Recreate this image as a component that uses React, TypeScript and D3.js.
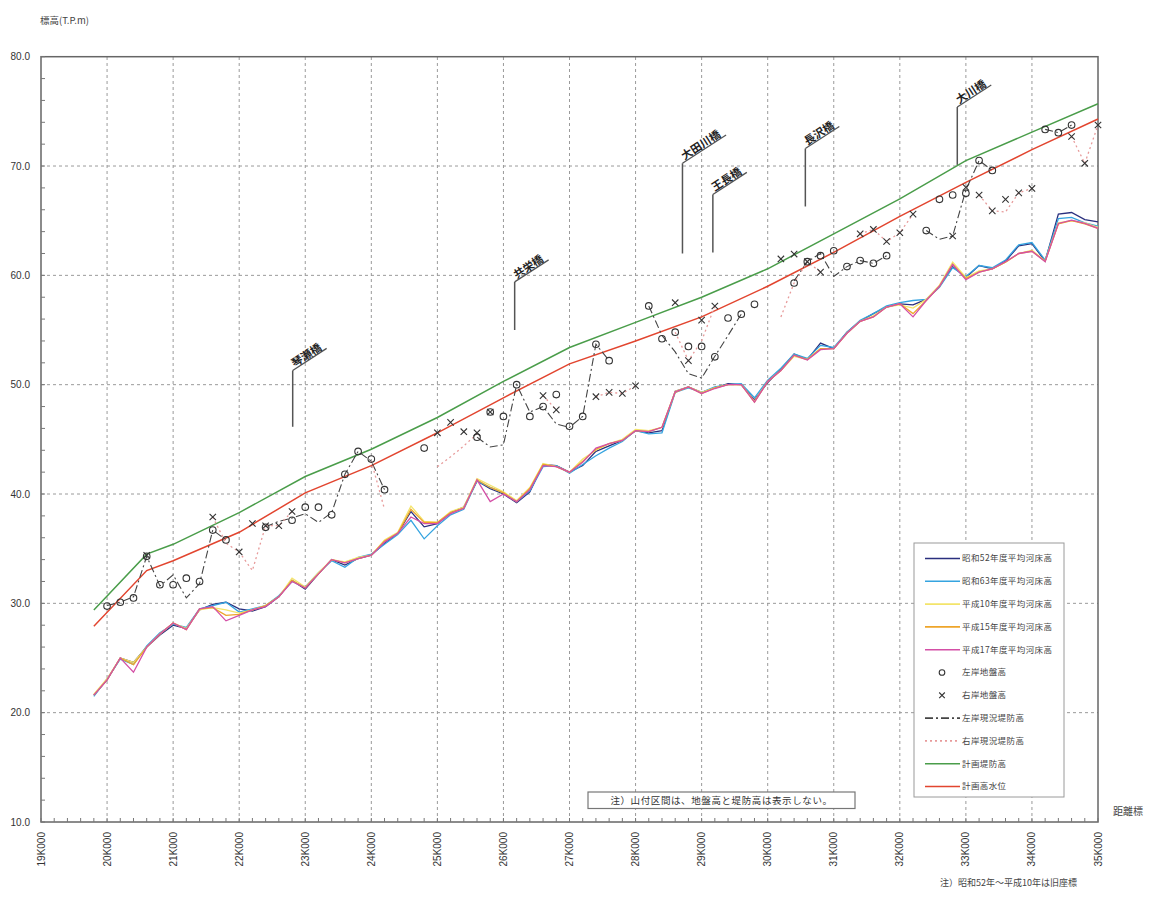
import React from 'react';
import * as d3 from 'd3';

const KM = [19.8,20,20.2,20.4,20.6,20.8,21,21.2,21.4,21.6,21.8,22,22.2,22.4,22.6,22.8,23,23.2,23.4,23.6,23.8,24,24.2,24.4,24.6,24.8,25,25.2,25.4,25.6,25.8,26,26.2,26.4,26.6,26.8,27,27.2,27.4,27.6,27.8,28,28.2,28.4,28.6,28.8,29,29.2,29.4,29.6,29.8,30,30.2,30.4,30.6,30.8,31,31.2,31.4,31.6,31.8,32,32.2,32.4,32.6,32.8,33,33.2,33.4,33.6,33.8,34,34.2,34.4,34.6,34.8,35];

const BED_S52 = [21.6,23.0,25.0,24.6,26.0,27.1,28.0,27.7,29.4,29.9, 30.1,29.5,29.3,29.7,30.6,32.1,31.3,32.7,34.0,33.5, 34.1,34.4,35.5,36.4,38.4,37.0,37.3,38.3,38.8,41.2, 40.5,40.0,39.2,40.2,42.7,42.6,42.0,42.6,43.9,44.4, 44.9,45.8,45.6,45.8,49.4,49.8,49.3,49.7,50.1,50.0, 48.6,50.2,51.4,52.8,52.3,53.8,53.3,54.8,55.8,56.5, 57.1,57.4,57.3,57.8,59.0,60.8,59.8,60.9,60.6,61.3, 62.7,62.9,61.3,65.6,65.75,65.1,64.9];
const BED_S63 = [21.5,23.1,24.9,24.4,26.1,27.3,28.1,27.8,29.5,29.8, 30.1,29.2,29.5,29.8,30.7,32.0,31.5,32.8,33.9,33.3, 34.2,34.5,35.4,36.3,37.6,35.9,37.1,38.1,38.6,41.2, 40.6,40.1,39.3,40.3,42.5,42.6,41.9,42.7,43.5,44.2, 44.8,45.8,45.5,45.6,49.3,49.7,49.3,49.8,50.0,50.1, 48.8,50.4,51.5,52.8,52.4,53.6,53.4,54.8,55.9,56.5, 57.2,57.5,57.7,57.8,58.9,60.7,59.9,60.9,60.7,61.4, 62.8,63.0,61.4,65.2,65.3,64.8,64.5];
const BED_H10 = [21.7,23.1,25.0,24.6,26.0,27.2,28.2,27.7,29.4,29.6, 29.4,29.1,29.4,29.8,30.6,32.3,31.5,32.8,34.0,33.8, 34.2,34.4,35.8,36.5,38.9,37.5,37.4,38.4,38.8,41.4, 40.8,40.2,39.4,40.6,42.8,42.5,42.0,43.2,44.0,44.6, 45.0,45.9,45.8,46.1,49.4,49.8,49.3,49.7,50.0,50.0, 48.5,50.3,51.3,52.6,52.3,53.3,53.3,54.7,55.8,56.3, 57.1,57.3,57.0,57.8,59.1,61.2,59.8,60.4,60.6,61.2, 62.0,62.3,61.3,64.8,65.0,64.8,64.4];
const BED_H15 = [21.6,23.0,25.0,24.4,26.0,27.2,28.2,27.6,29.5,29.6, 28.9,29.0,29.4,29.8,30.6,32.1,31.4,32.7,34.0,33.7, 34.1,34.4,35.7,36.4,38.6,37.4,37.4,38.3,38.7,41.3, 40.6,40.1,39.3,40.5,42.7,42.5,42.0,43.0,44.1,44.6, 44.9,45.8,45.7,46.1,49.3,49.8,49.2,49.7,50.0,50.0, 48.4,50.3,51.3,52.7,52.3,53.3,53.3,54.7,55.8,56.2, 57.1,57.4,56.5,57.7,59.0,61.0,59.7,60.3,60.6,61.2, 62.0,62.2,61.3,64.7,65.0,64.7,64.3];
const BED_H17 = [21.6,23.0,25.0,23.7,26.0,27.2,28.2,27.6,29.5,29.7, 28.4,28.9,29.4,29.7,30.6,32.0,31.4,32.7,34.0,33.7, 34.1,34.4,35.6,36.4,37.9,37.3,37.3,38.2,38.7,41.3, 39.3,40.0,39.3,40.4,42.6,42.5,42.0,42.9,44.2,44.6, 44.9,45.8,45.7,46.1,49.35,49.8,49.2,49.65,50.0,50.0, 48.4,50.3,51.3,52.7,52.25,53.2,53.3,54.7,55.8,56.2, 57.1,57.4,56.2,57.7,59.0,61.0,59.6,60.3,60.6,61.25, 62.0,62.2,61.25,64.75,65.05,64.75,64.3];

const LEFT_GROUND = [null,29.75,30.1,30.5,34.3,31.7,31.7,32.3,32.0,36.7, 35.8,null,null,36.95,null,37.6,38.8,38.8,38.1,41.8, 43.9,43.2,40.4,null,null,44.2,null,null,null,45.2, 47.5,47.1,50.0,47.1,48.0,49.1,46.2,47.1,53.7,52.2, null,null,57.2,54.2,54.8,53.5,53.5,52.55,56.1,56.45, 57.35,null,null,59.3,61.25,61.8,62.25,60.8,61.35,61.1, 61.8,null,null,64.1,66.95,67.35,67.5,70.5,69.6,null, null,null,73.35,73.05,73.75,null,null];
const RIGHT_GROUND = [null,null,null,null,34.4,null,null,null,null,37.9, null,34.7,37.3,37.1,37.1,38.4,null,null,null,null, null,null,null,null,null,null,45.6,46.55,45.7,45.6, 47.5,null,null,null,49.0,47.7,null,null,48.9,49.3, 49.2,49.9,null,null,57.5,52.2,55.9,57.2,null,null, null,null,61.5,61.95,61.25,60.3,null,null,63.8,64.2, 63.1,63.9,65.6,null,null,63.6,68.05,67.35,65.9,66.95, 67.55,67.95,null,null,72.7,70.25,73.75];
const LEFT_LEVEE = [null,29.8,30.1,30.6,34.3,31.6,32.6,30.5,31.8,36.7, 35.8,null,null,37.0,37.5,37.8,38.2,37.4,38.3,41.8, 43.9,43.0,40.4,null,null,null,null,null,null,45.2, 44.3,44.5,50.0,47.5,48.0,46.4,46.1,47.1,53.7,52.2, null,null,57.2,54.5,53.0,51.0,50.6,52.6,54.5,56.45, null,null,null,59.5,61.25,62.0,59.9,60.8,61.35,61.1, 61.8,null,null,64.1,63.3,63.6,67.8,70.5,69.6,null, null,null,73.35,73.05,73.75,null,null];
const RIGHT_LEVEE = [null,null,null,null,null,null,null,null,null,37.9, 35.5,34.7,33.0,37.1,37.1,38.4,null,null,null,null, null,43.0,38.6,null,null,null,42.5,43.4,44.4,45.5, null,null,null,null,49.0,47.7,null,null,48.9,49.3, 49.2,49.9,null,null,54.8,52.2,54.0,57.2,null,null, null,null,56.2,59.3,61.25,60.3,null,null,63.8,64.2, 63.1,63.9,65.6,null,null,null,null,67.35,65.9,65.8, 67.55,67.95,null,null,72.7,70.25,73.75];

const PLAN_KM = [19.8,20.6,21,22,23,24,25,26,27,28,29,30,31,32,33,34,35];
const PLAN_LEVEE = [29.4,34.5,35.4,38.3,41.6,44.1,47.0,50.3,53.4,55.7,58.0,60.6,63.8,67.0,70.5,73.1,75.7];
const PLAN_HWL = [27.9,33.0,33.9,36.5,40.1,42.6,45.6,48.8,51.9,54.0,56.2,59.0,62.1,65.4,68.5,71.5,74.3];

const X_TICKS = [19,20,21,22,23,24,25,26,27,28,29,30,31,32,33,34,35];
const Y_TICKS = [10,20,30,40,50,60,70,80];

const BRIDGE_NAMES = ['琴瀬橋','共栄橋','大田川橋','王長橋','長沢橋','大川橋'];
const BRIDGE_KM = [22.81,26.17,28.71,29.17,30.57,32.87];
const BRIDGE_TOP = [51.3,59.4,70.25,67.4,71.6,75.4];
const BRIDGE_BOTTOM = [46.15,55.0,62.0,62.1,66.3,70.1];

const BED_NAMES = ['昭和52年度平均河床高','昭和63年度平均河床高','平成10年度平均河床高','平成15年度平均河床高','平成17年度平均河床高'];
const BED_COLORS = ['#2a2f7e','#35a4e0','#f3e46a','#eea52a','#d44fa6'];

const JP = '"Noto Sans CJK JP", "Noto Sans", sans-serif';
const LAT = '"Liberation Sans", Arial, sans-serif';

export default function App() {
  const W = 1153, H = 918;
  const x = d3.scaleLinear().domain([19, 35]).range([41, 1098]);
  const y = d3.scaleLinear().domain([10, 80]).range([822, 56.7]);
  const bedSeries = [BED_S52, BED_S63, BED_H10, BED_H15, BED_H17];
  const lineGen = d3.line<any>().defined((d: any) => d[1] != null).x((d: any) => x(d[0])).y((d: any) => y(d[1]));
  const pts = (arr: (number | null)[], ks: number[] = KM) => ks.map((k, i) => [k, arr[i]]);

  const minorX = d3.range(0, 81).map(i => 19 + i * 0.2);
  const minorY = d3.range(0, 36).map(i => 10 + i * 2);

  const legendItems = [
    ...BED_NAMES.map((n, i) => ({ name: n, type: 'line', color: BED_COLORS[i], dash: '' })),
    { name: '左岸地盤高', type: 'circle', color: '#333', dash: '' },
    { name: '右岸地盤高', type: 'cross', color: '#333', dash: '' },
    { name: '左岸現況堤防高', type: 'line', color: '#444', dash: '8,3,2,3' },
    { name: '右岸現況堤防高', type: 'line', color: '#e79a9a', dash: '2,3' },
    { name: '計画堤防高', type: 'line', color: '#4a9d4a', dash: '' },
    { name: '計画高水位', type: 'line', color: '#e2452f', dash: '' },
  ];

  const cross = (cx: number, cy: number, s: number, key: any) => (
    <path key={key} d={`M${cx - s},${cy - s}L${cx + s},${cy + s}M${cx - s},${cy + s}L${cx + s},${cy - s}`} stroke="#333" strokeWidth={1.1} fill="none" />
  );

  const ang = 33;
  const rad = (ang * Math.PI) / 180;

  return (
    <svg width={W} height={H} style={{ position: 'absolute', left: 0, top: 0, background: '#fff' }}>
      <rect x={0} y={0} width={W} height={H} fill="#fff" />
      <text x={40} y={24} fontFamily={JP} fontSize={9.5} fill="#444">標高(T.P.m)</text>

      {/* grid */}
      {Y_TICKS.filter(t => t > 10 && t < 80).map(t => (
        <line key={'gy' + t} x1={x(19)} x2={x(35)} y1={y(t)} y2={y(t)} stroke="#9a9a9a" strokeDasharray="3,3" strokeWidth={1} />
      ))}
      {X_TICKS.filter(t => t > 19 && t < 35).map(t => (
        <line key={'gx' + t} x1={x(t)} x2={x(t)} y1={y(10)} y2={y(80)} stroke="#9a9a9a" strokeDasharray="3,3" strokeWidth={1} />
      ))}

      {/* frame */}
      <rect x={x(19)} y={y(80)} width={x(35) - x(19)} height={y(10) - y(80)} fill="none" stroke="#666" strokeWidth={1.5} />
      {minorX.map((t, i) => (
        <line key={'mx' + i} x1={x(t)} x2={x(t)} y1={y(10)} y2={y(10) - 4} stroke="#777" strokeWidth={1} />
      ))}
      {minorY.map((t, i) => (
        <line key={'my' + i} x1={x(19)} x2={x(19) + 4} y1={y(t)} y2={y(t)} stroke="#777" strokeWidth={1} />
      ))}

      {/* axis labels */}
      {Y_TICKS.map(t => (
        <text key={'yl' + t} x={30} y={y(t)} dy="0.35em" textAnchor="end" fontFamily={LAT} fontSize={10} fill="#333">{t.toFixed(1)}</text>
      ))}
      {X_TICKS.map(t => (
        <text key={'xl' + t} transform={`translate(${x(t)},${832}) rotate(-90)`} textAnchor="end" dominantBaseline="central" fontFamily={LAT} fontSize={10} fill="#333">{`${t}K000`}</text>
      ))}
      <text x={1113} y={815} fontFamily={JP} fontSize={10} fill="#444">距離標</text>
      <text x={940} y={886} fontFamily={JP} fontSize={9} fill="#444">注）昭和52年～平成10年は旧座標</text>

      {/* bridges */}
      {BRIDGE_NAMES.map((n, i) => {
        const bx = x(BRIDGE_KM[i]);
        const yt = y(BRIDGE_TOP[i]);
        const yb = y(BRIDGE_BOTTOM[i]);
        const L = n.length * 11.5 + 6;
        return (
          <g key={'b' + i}>
            <line x1={bx} x2={bx} y1={yt} y2={yb} stroke="#555" strokeWidth={1.5} />
            <line x1={bx} y1={yt} x2={bx + L * Math.cos(rad)} y2={yt - L * Math.sin(rad)} stroke="#555" strokeWidth={1.3} />
            <text transform={`translate(${bx + 2},${yt - 3}) rotate(${-ang})`} fontFamily={JP} fontSize={11} fill="#222" fontWeight={700}>{n}</text>
          </g>
        );
      })}

      {/* plan lines */}
      <path d={lineGen(pts(PLAN_LEVEE, PLAN_KM) as any) || ''} fill="none" stroke="#4a9d4a" strokeWidth={1.5} />
      <path d={lineGen(pts(PLAN_HWL, PLAN_KM) as any) || ''} fill="none" stroke="#e2452f" strokeWidth={1.5} />

      {/* bed lines */}
      {bedSeries.map((s, i) => (
        <path key={'bed' + i} d={lineGen(pts(s) as any) || ''} fill="none" stroke={BED_COLORS[i]} strokeWidth={1.3} />
      ))}

      {/* levees */}
      <path d={lineGen(pts(LEFT_LEVEE) as any) || ''} fill="none" stroke="#444" strokeWidth={1.1} strokeDasharray="8,3,2,3" />
      <path d={lineGen(pts(RIGHT_LEVEE) as any) || ''} fill="none" stroke="#e79a9a" strokeWidth={1.3} strokeDasharray="2,3" />

      {/* markers */}
      {LEFT_GROUND.map((v, i) => v == null ? null : (
        <circle key={'lg' + i} cx={x(KM[i])} cy={y(v)} r={3.3} fill="none" stroke="#333" strokeWidth={1.1} />
      ))}
      {RIGHT_GROUND.map((v, i) => v == null ? null : cross(x(KM[i]), y(v), 3.2, 'rg' + i))}

      {/* legend */}
      <rect x={914} y={543} width={150} height={254} fill="#fff" stroke="#9a9a9a" strokeWidth={1} />
      {legendItems.map((it, i) => {
        const ly = 558.5 + i * 22.8;
        return (
          <g key={'lg' + i}>
            {it.type === 'line' && <line x1={925} x2={960} y1={ly} y2={ly} stroke={it.color} strokeWidth={1.6} strokeDasharray={it.dash} />}
            {it.type === 'circle' && <circle cx={942} cy={ly} r={2.8} fill="none" stroke="#333" strokeWidth={1.1} />}
            {it.type === 'cross' && cross(942, ly, 2.8, 'lc')}
            <text x={962} y={ly} dy="0.35em" fontFamily={JP} fontSize={8.5} fill="#444" letterSpacing={0.4}>{it.name}</text>
          </g>
        );
      })}

      {/* note box */}
      <rect x={588} y={792} width={267} height={16.5} fill="#fff" stroke="#777" strokeWidth={1.2} />
      <text x={721.5} y={800.5} dy="0.35em" textAnchor="middle" fontFamily={JP} fontSize={9.5} fill="#333" letterSpacing={0.6}>注）山付区間は、地盤高と堤防高は表示しない。</text>
    </svg>
  );
}
